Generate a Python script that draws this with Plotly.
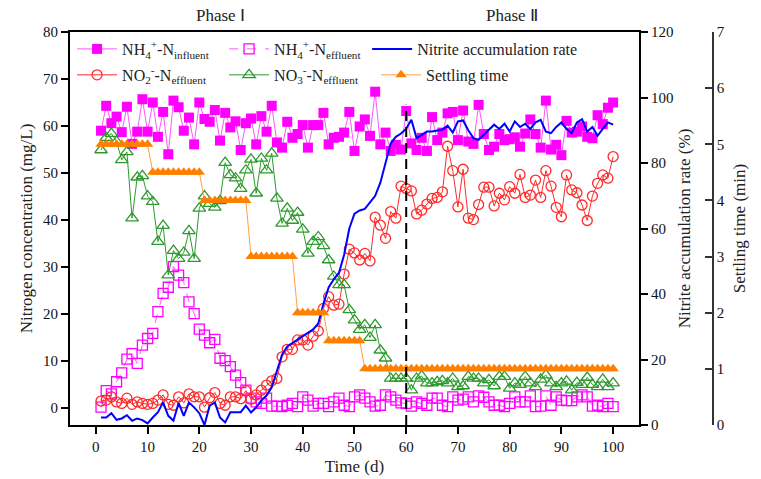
import plotly.graph_objects as go

days = list(range(1, 101))

nh4_influent = [59.0, 64.3, 60.6, 62.0, 58.7, 64.1, 56.2, 58.8, 65.7, 58.8,
                65.0, 57.7, 63.0, 54.0, 65.4, 64.0, 59.0, 61.8, 56.1, 65.0,
                61.5, 60.9, 63.4, 56.9, 62.8, 59.7, 61.0, 54.9, 60.6, 61.6,
                56.1, 62.1, 58.8, 64.3, 56.5, 55.4, 60.9, 57.5, 58.3, 60.2,
                55.4, 60.2, 60.2, 62.8, 56.1, 57.5, 57.7, 58.6, 63.0, 54.7,
                59.9, 61.4, 57.9, 67.3, 56.1, 58.6, 54.7, 56.0, 55.0, 63.2,
                56.3, 54.9, 57.5, 54.7, 61.9, 57.0, 58.6, 62.7, 63.0, 57.0,
                63.3, 56.7, 56.2, 64.5, 58.3, 54.9, 55.6, 58.3, 57.0, 57.2,
                57.6, 55.6, 58.4, 61.4, 58.3, 55.4, 65.4, 55.0, 56.0, 53.8,
                61.1, 58.6, 58.8, 59.9, 57.7, 57.4, 62.3, 60.4, 63.9, 65.0]

nh4_effluent = [0.2, 3.7, 3.0, 5.6, 7.5, 10.4, 11.6, 9.5, 13.4, 14.8,
                15.9, 20.5, 24.4, 25.7, 30.1, 28.3, 26.7, 22.6, 20.1, 16.8,
                15.5, 13.9, 14.6, 10.6, 10.1, 8.8, 7.0, 5.4, 3.8, 2.1,
                1.3, 1.0, 2.1, 0.4, 0.4, 0.3, 0.6, 1.0, 0.3, 2.4,
                1.7, 0.4, 1.0, 1.0, 0.3, 1.3, 2.1, 0.6, 0.3, 2.4,
                2.8, 2.1, 1.3, 0.4, 0.6, 2.8, 2.4, 1.7, 1.1, 1.0,
                0.4, 1.3, 1.0, 0.6, 2.1, 2.1, 0.6, 0.3, 2.4, 1.7,
                1.9, 2.4, 1.3, 2.6, 2.3, 1.3, 0.6, 0.6, 0.3, 1.0,
                2.4, 1.3, 1.3, 2.6, 0.3, 0.4, 2.6, 0.6, 2.4, 1.7,
                1.6, 1.6, 2.4, 2.8, 2.4, 0.4, 0.6, 0.3, 1.0, 0.3]

no2_effluent = [1.5, 1.7, 2.4, 1.3, 1.0, 2.1, 0.8, 1.3, 1.0, 0.8,
                1.0, 1.7, 2.8, 0.8, 0.6, 2.4, 1.1, 3.0, 2.4, 2.4,
                0.2, 2.2, 3.3, 1.0, 0.6, 2.4, 2.4, 2.0, 3.7, 1.9,
                2.8, 3.8, 4.9, 5.8, 6.3, 10.9, 12.5, 12.5, 14.5, 14.5,
                13.4, 15.3, 16.4, 21.2, 23.7, 21.9, 22.1, 28.5, 33.8, 33.0,
                31.5, 32.9, 31.3, 40.6, 38.9, 36.1, 41.8, 40.4, 47.2, 46.7,
                46.2, 41.3, 42.1, 43.4, 44.6, 44.8, 46.0, 55.7, 50.5, 42.8,
                50.8, 40.4, 40.1, 43.3, 47.0, 47.0, 43.0, 45.7, 44.3, 47.1,
                45.7, 49.7, 44.8, 45.3, 48.5, 44.8, 50.5, 47.2, 42.7, 40.7,
                49.6, 46.4, 45.8, 43.2, 39.9, 45.1, 47.8, 49.6, 48.9, 53.5]

no3_effluent = [54.9, 57.5, 58.4, 56.7, 52.8, 54.5, 40.4, 49.1, 49.4, 45.1,
                43.9, 35.4, 38.8, 28.3, 33.5, 31.8, 33.1, 37.7, 31.8, 42.5,
                45.1, 43.5, 42.7, 44.1, 52.2, 49.6, 48.9, 46.7, 50.6, 52.9,
                45.7, 53.1, 50.6, 54.2, 44.6, 39.3, 42.5, 39.9, 41.6, 38.0,
                32.9, 35.4, 36.4, 34.5, 31.5, 28.0, 26.2, 26.2, 20.9, 18.7,
                16.7, 17.7, 15.0, 17.7, 12.3, 10.6, 6.3, 6.3, 6.3, 6.3,
                3.8, 6.3, 6.8, 5.3, 5.3, 5.6, 5.8, 5.3, 6.3, 4.5,
                4.7, 6.7, 6.3, 6.3, 5.3, 6.0, 4.7, 6.7, 6.7, 4.2,
                5.3, 5.0, 6.7, 5.3, 4.5, 6.1, 7.0, 5.3, 4.5, 5.3,
                5.7, 3.8, 5.4, 5.0, 6.5, 5.0, 4.5, 6.1, 4.5, 5.3]

nitrite_rate = [2.3, 2.3, 3.6, 1.6, 2.0, 3.0, 1.3, 2.0, 1.5, 0.5,
                2.3, 3.9, 6.9, 2.8, 1.3, 6.7, 2.8, 6.9, 5.4, 3.6,
                0.0, 5.9, 6.9, 2.3, 0.8, 3.9, 3.9, 3.9, 5.9, 3.8,
                5.4, 7.5, 9.0, 11.5, 16.5, 21.5, 24.0, 25.0, 26.2, 27.2,
                28.2, 29.2, 31.0, 37.0, 42.0, 44.5, 46.5, 52.0, 60.0, 64.5,
                65.5, 66.0, 68.0, 70.0, 74.0, 80.0, 86.0, 88.0, 89.0, 90.5,
                93.2, 87.6, 88.6, 89.6, 89.6, 90.0, 90.2, 91.4, 89.3, 92.7,
                93.0, 90.0, 87.6, 87.1, 88.6, 90.4, 91.7, 90.4, 92.0, 89.6,
                92.7, 91.0, 92.0, 90.4, 92.4, 93.2, 89.6, 89.1, 91.0, 92.4,
                90.4, 89.1, 92.4, 93.4, 89.6, 91.0, 88.3, 90.4, 92.4, 91.7]

settling_time = [5.0] * 10 + [4.5] * 10 + [4.0] * 9 + [3.0] * 9 + [2.0] * 6 + [1.5] * 7 + [1.0] * 49

FONT = "Liberation Serif"
MAG = "#FF00FF"
RED = "#FF2A2A"
GRN = "#2E9A2E"
ORG = "#FF7F00"
BLU = "#0000FF"

fig = go.Figure()

fig.add_trace(go.Scatter(
    x=days, y=nh4_influent, mode="lines+markers", name="NH<sub>4</sub><sup>+</sup>-N<sub>influent</sub>",
    line=dict(color="#FF55FF", width=1), marker=dict(symbol="square", size=10, color=MAG),
    legend="legend"))
fig.add_trace(go.Scatter(
    x=days, y=nh4_effluent, mode="lines+markers", name="NH<sub>4</sub><sup>+</sup>-N<sub>effluent</sub>",
    line=dict(color="#FF55FF", width=1, dash="dash"),
    marker=dict(symbol="square-open", size=10, color=MAG, line=dict(width=1.3)),
    legend="legend"))
fig.add_trace(go.Scatter(
    x=days, y=nitrite_rate, mode="lines", name="Nitrite accumulation rate",
    line=dict(color=BLU, width=2), yaxis="y2", legend="legend3"))
fig.add_trace(go.Scatter(
    x=days, y=no2_effluent, mode="lines+markers", name="NO<sub>2</sub><sup>-</sup>-N<sub>effluent</sub>",
    line=dict(color=RED, width=1), marker=dict(symbol="circle-open", size=10, color=RED, line=dict(width=1.3)),
    legend="legend2"))
fig.add_trace(go.Scatter(
    x=days, y=no3_effluent, mode="lines+markers", name="NO<sub>3</sub><sup>-</sup>-N<sub>effluent</sub>",
    line=dict(color=GRN, width=1), marker=dict(symbol="triangle-up-open", size=11, color=GRN, line=dict(width=1.3)),
    legend="legend2"))
fig.add_trace(go.Scatter(
    x=days, y=settling_time, mode="lines+markers", name="Settling time",
    line=dict(color="#FFA040", width=1), marker=dict(symbol="triangle-up", size=10, color=ORG),
    yaxis="y3", legend="legend2"))

tickfont = dict(family=FONT, size=15, color="#111111")
titlefont = dict(family=FONT, size=17, color="#222222")

legend_common = dict(orientation="h", xref="paper", yref="paper",
                     xanchor="left", yanchor="top", entrywidthmode="pixels",
                     bgcolor="rgba(0,0,0,0)", font=dict(family=FONT, size=16, color="#222222"),
                     tracegroupgap=0, itemwidth=40)

fig.update_layout(
    width=761, height=479,
    margin=dict(l=70, r=0, t=32, b=54, autoexpand=False),
    paper_bgcolor="white", plot_bgcolor="white",
    font=dict(family=FONT, size=16, color="#222222"),
    xaxis=dict(domain=[0, 0.8234], range=[-5, 105], dtick=10, tick0=0,
               showline=True, linecolor="black", linewidth=2, mirror=True,
               ticks="outside", ticklen=7, tickwidth=1.5, tickcolor="black",
               showgrid=False, zeroline=False, tickfont=tickfont,
               title=dict(text="Time (d)", font=titlefont, standoff=6)),
    yaxis=dict(range=[-3.6, 80], dtick=10, tick0=0,
               showline=True, linecolor="black", linewidth=2,
               ticks="outside", ticklen=7, tickwidth=1.5, tickcolor="black",
               showgrid=False, zeroline=False, tickfont=tickfont,
               title=dict(text="Nitrogen concentration (mg/L)", font=titlefont, standoff=6)),
    yaxis2=dict(range=[0, 120], dtick=20, overlaying="y", side="right", anchor="x",
                showline=True, linecolor="black", linewidth=2,
                ticks="outside", ticklen=7, tickwidth=1.5, tickcolor="black",
                showgrid=False, zeroline=False, tickfont=tickfont,
                title=dict(text="Nitrite accumulation rate (%)", font=titlefont, standoff=6)),
    yaxis3=dict(range=[0, 7], dtick=1, overlaying="y", side="right", anchor="free", position=0.9305,
                showline=True, linecolor="#333333", linewidth=1.5,
                ticks="inside", ticklen=7, tickwidth=1.5, tickcolor="#333333",
                showgrid=False, zeroline=False, tickfont=tickfont,
                title=dict(text="Settling time (min)", font=titlefont, standoff=8)),
    legend=dict(x=0.003, y=1.0, entrywidth=97, **legend_common),
    legend2=dict(x=0.003, y=0.934, entrywidth=97, **legend_common),
    legend3=dict(x=0.430, y=1.0, entrywidth=180, **legend_common),
    showlegend=True,
    shapes=[dict(type="line", xref="x", yref="y", x0=60, x1=60, y0=-3.6, y1=64.5,
                 line=dict(color="black", width=2, dash="10px,6px"))],
    annotations=[
        dict(text="Phase Ⅰ", xref="x", yref="paper", x=24, y=1.043, yanchor="middle",
             showarrow=False, font=dict(family=FONT, size=17, color="#222222")),
        dict(text="Phase Ⅱ", xref="x", yref="paper", x=80.5, y=1.043, yanchor="middle",
             showarrow=False, font=dict(family=FONT, size=17, color="#222222")),
    ],
)

fig.write_html("out.html")
